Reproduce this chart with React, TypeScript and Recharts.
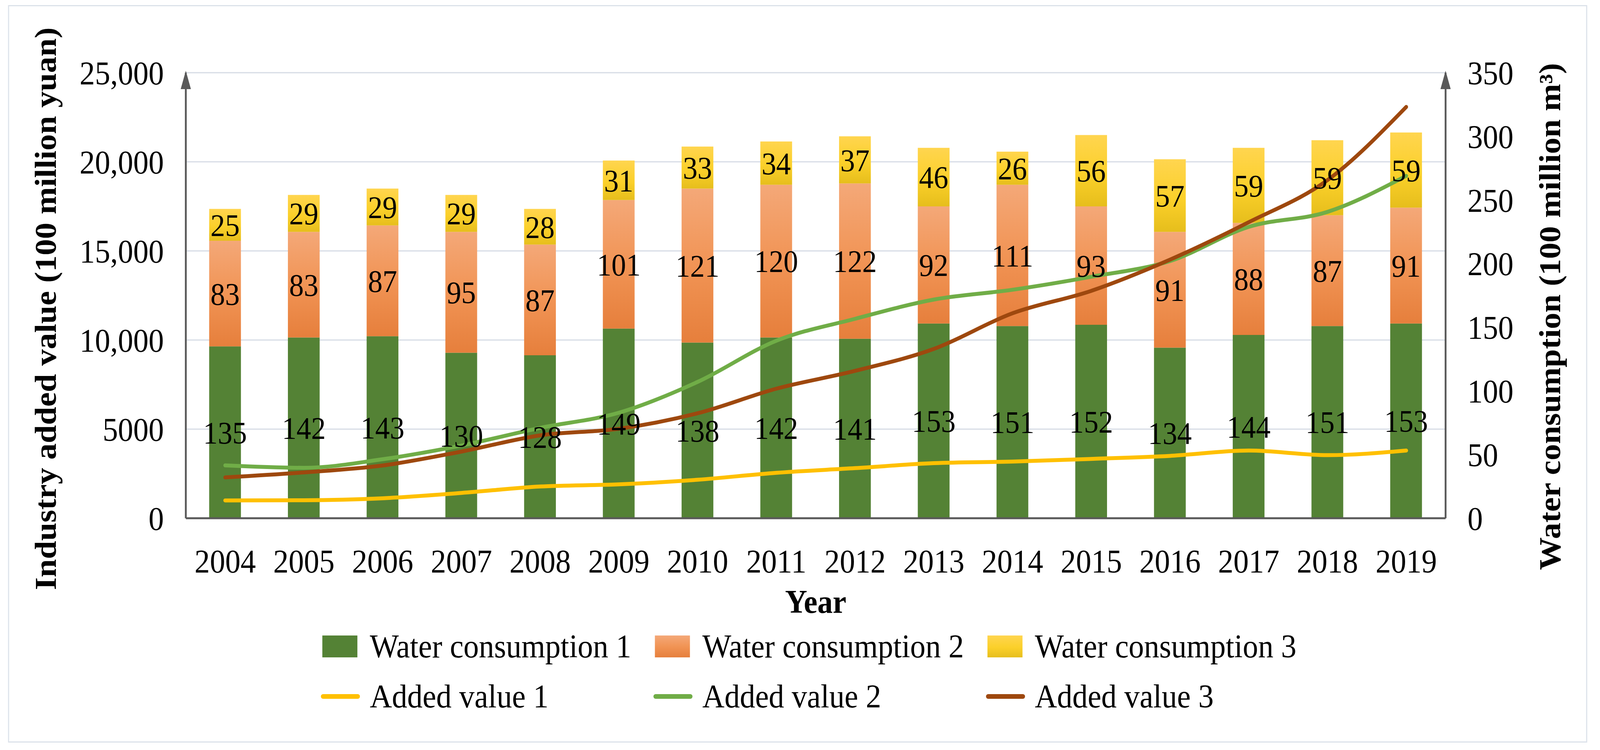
import React from 'react';
import { ComposedChart, Bar, Line, XAxis, YAxis, CartesianGrid, Legend, LabelList } from 'recharts';

const years = ['2004', '2005', '2006', '2007', '2008', '2009', '2010', '2011', '2012', '2013', '2014', '2015', '2016', '2017', '2018', '2019'];

// water consumption (100 million m3), right axis
const water1 = [135, 142, 143, 130, 128, 149, 138, 142, 141, 153, 151, 152, 134, 144, 151, 153];
const water2 = [83, 83, 87, 95, 87, 101, 121, 120, 122, 92, 111, 93, 91, 88, 87, 91];
const water3 = [25, 29, 29, 29, 28, 31, 33, 34, 37, 46, 26, 56, 57, 59, 59, 59];

// industry added value (100 million yuan), left axis
const added1 = [1000, 1010, 1120, 1420, 1780, 1900, 2160, 2550, 2810, 3090, 3180, 3330, 3500, 3800, 3540, 3800];
const added2 = [2965, 2830, 3310, 4080, 5070, 5920, 7650, 9960, 11190, 12270, 12820, 13550, 14430, 16350, 17190, 19210];
const added3 = [2290, 2570, 2960, 3740, 4650, 5020, 5890, 7270, 8270, 9500, 11500, 12760, 14510, 16610, 18970, 23080];

const leftTicks = [0, 5000, 10000, 15000, 20000, 25000];
const rightTicks = [0, 50, 100, 150, 200, 250, 300, 350];

const data = years.map((year, i) => ({
  year,
  w1: water1[i],
  w2: water2[i],
  w3: water3[i],
  a1: added1[i],
  a2: added2[i],
  a3: added3[i],
}));

const W = 4383;
const H = 1919;
const PLOT_LEFT = 509;
const PLOT_RIGHT = 3960;
const PLOT_TOP = 186;
const FONT = '"Liberation Serif", "Times New Roman", Times, serif';

const barSeries = [
  { key: 'w1', name: 'Water consumption 1', fill: '#548235' },
  { key: 'w2', name: 'Water consumption 2', fill: 'url(#gradOrange)' },
  { key: 'w3', name: 'Water consumption 3', fill: 'url(#gradYellow)' },
];

const lineSeries = [
  { key: 'a1', name: 'Added value 1', stroke: '#FFC000' },
  { key: 'a2', name: 'Added value 2', stroke: '#70AD47' },
  { key: 'a3', name: 'Added value 3', stroke: '#9E480E' },
];

const fmtLeft = (v: number) => (v >= 10000 ? v.toLocaleString('en-US') : String(v));

const LeftTitle = (props: any) => {
  const vb = props.viewBox || {};
  const cx = (vb.x ?? 0) + 125;
  const cy = (vb.y ?? PLOT_TOP) + (vb.height ?? 1140) / 2 + 34;
  return (
    <text x={cx} y={cy} transform={`rotate(-90, ${cx}, ${cy})`} textAnchor="middle" dominantBaseline="central"
      fontSize={84} fontWeight="bold" fill="#000" fontFamily={FONT}>
      Industry added value (100 million yuan)
    </text>
  );
};

const RightTitle = (props: any) => {
  const vb = props.viewBox || {};
  const cx = (vb.x ?? PLOT_RIGHT) + 286;
  const cy = (vb.y ?? PLOT_TOP) + (vb.height ?? 1140) / 2 + 54;
  return (
    <text x={cx} y={cy} transform={`rotate(-90, ${cx}, ${cy})`} textAnchor="middle" dominantBaseline="central"
      fontSize={84} fontWeight="bold" fill="#000" fontFamily={FONT}>
      Water consumption (100 million m³)
    </text>
  );
};

const YearTitle = (props: any) => {
  const vb = props.viewBox || {};
  const cx = (vb.x ?? PLOT_LEFT) + (vb.width ?? PLOT_RIGHT - PLOT_LEFT) / 2;
  const y = (vb.y ?? 1326) + 242;
  return (
    <text x={cx} y={y} textAnchor="middle" fontSize={84} fontWeight="bold" fill="#000" fontFamily={FONT}>
      Year
    </text>
  );
};

const LegendContent = (props: any) => {
  const payload: any[] = props.payload || [];
  const colorOf = (key: string, fallback: string) => {
    const p = payload.find((e) => e.dataKey === key);
    return (p && p.color) || fallback;
  };
  return (
    <svg width={W} height={270} style={{ display: 'block' }}>
      {barSeries.map((s, i) => {
        const x0 = 883 + 911 * i;
        return (
          <g key={s.key}>
            <rect x={x0} y={36} width={96} height={56} fill={s.fill.startsWith('url') ? s.fill : colorOf(s.key, s.fill)} />
            <text x={x0 + 130} y={92} fontSize={84} fill="#000" fontFamily={FONT}>{s.name}</text>
          </g>
        );
      })}
      {lineSeries.map((s, i) => {
        const x0 = 883 + 911 * i;
        return (
          <g key={s.key}>
            <line x1={x0 + 2} x2={x0 + 97} y1={192} y2={192} stroke={colorOf(s.key, s.stroke)} strokeWidth={12} strokeLinecap="round" />
            <text x={x0 + 130} y={220} fontSize={84} fill="#000" fontFamily={FONT}>{s.name}</text>
          </g>
        );
      })}
    </svg>
  );
};

export default function App() {
  const tickStyle = { fill: '#000', fontSize: 84, fontFamily: FONT };
  // the browser viewport can be narrower than the reference; stretch to fill it
  const vw = document.documentElement.clientWidth || window.innerWidth || W;
  const vh = window.innerHeight || H;
  const sx = vw / W;
  const sy = vh / H;
  return (
    <div style={{ position: 'absolute', left: 0, top: 0, width: W, height: H, background: '#fff', fontFamily: FONT, transform: `scale(${sx}, ${sy})`, transformOrigin: '0 0' }}>
      <div style={{ position: 'absolute', left: 22, top: 13, width: 4326, height: 1887, border: '3px solid #DCE2EA', boxSizing: 'border-box' }} />
      <ComposedChart width={W} height={H} data={data} margin={{ top: PLOT_TOP, right: 0, bottom: 329, left: 0 }}>
        <defs>
          <linearGradient id="gradOrange" x1="0" y1="0" x2="0" y2="1">
            <stop offset="0%" stopColor="#F4A878" />
            <stop offset="50%" stopColor="#F19455" />
            <stop offset="100%" stopColor="#E67F3C" />
          </linearGradient>
          <linearGradient id="gradYellow" x1="0" y1="0" x2="0" y2="1">
            <stop offset="0%" stopColor="#FFD54F" />
            <stop offset="55%" stopColor="#FBD02A" />
            <stop offset="100%" stopColor="#E6BE1C" />
          </linearGradient>
        </defs>
        <CartesianGrid yAxisId="left" vertical={false} stroke="#D6DCE5" strokeWidth={3} />
        <XAxis
          dataKey="year"
          height={264}
          tickLine={false}
          tickSize={0}
          tickMargin={79}
          interval={0}
          tick={tickStyle}
          axisLine={{ stroke: '#595959', strokeWidth: 5 }}
          label={<YearTitle />}
        />
        <YAxis
          yAxisId="left"
          width={509}
          domain={[0, 25000]}
          ticks={leftTicks}
          interval={0}
          tickFormatter={fmtLeft}
          tickLine={false}
          tickSize={0}
          tickMargin={60}
          tick={tickStyle}
          axisLine={{ stroke: '#595959', strokeWidth: 5 }}
          label={<LeftTitle />}
        />
        <YAxis
          yAxisId="right"
          orientation="right"
          width={423}
          domain={[0, 350]}
          ticks={rightTicks}
          interval={0}
          tickLine={false}
          tickSize={0}
          tickMargin={60}
          tick={tickStyle}
          axisLine={{ stroke: '#595959', strokeWidth: 5 }}
          label={<RightTitle />}
        />
        {barSeries.map((s) => (
          <Bar key={s.key} yAxisId="right" dataKey={s.key} name={s.name} stackId="w" fill={s.fill} barSize={87} isAnimationActive={false}>
            <LabelList dataKey={s.key} position="center" fill="#000" fontSize={80} fontFamily={FONT} />
          </Bar>
        ))}
        {lineSeries.map((s) => (
          <Line
            key={s.key}
            yAxisId="left"
            type="monotone"
            dataKey={s.key}
            name={s.name}
            stroke={s.stroke}
            strokeWidth={10}
            strokeLinecap="round"
            dot={false}
            activeDot={false}
            isAnimationActive={false}
          />
        ))}
        <Legend
          layout="horizontal"
          verticalAlign="middle"
          align="center"
          wrapperStyle={{ left: 0, top: 1590, width: W, height: 270 }}
          content={<LegendContent />}
        />
      </ComposedChart>
      <svg width={W} height={H} style={{ position: 'absolute', left: 0, top: 0, pointerEvents: 'none' }}>
        {[PLOT_LEFT, PLOT_RIGHT].map((x) => (
          <polygon key={x} points={`${x - 14},228 ${x},181 ${x + 14},228`} fill="#595959" />
        ))}
      </svg>
    </div>
  );
}
